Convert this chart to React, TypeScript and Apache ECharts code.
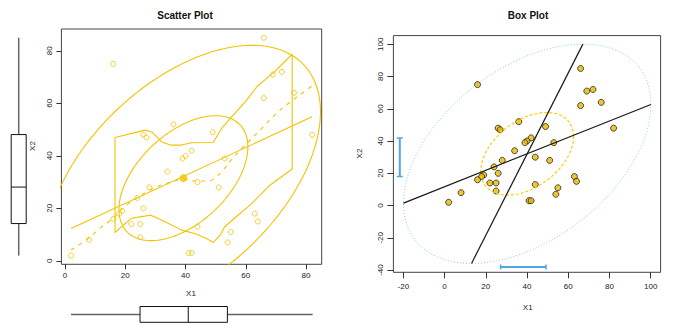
import React, { useEffect, useRef } from "react";
import * as echarts from "echarts";

// ---- data ----
const X1 = [16, 66, 69, 72, 66, 76, 82, 26, 27, 36, 49, 42, 40, 39, 53, 34, 44, 51, 28, 24, 26, 19, 18, 16, 22, 25, 25, 8, 2, 44, 41, 42, 54, 55, 63, 64];
const X2 = [75, 85, 71, 72, 62, 64, 48, 48, 47, 52, 49, 42, 40, 39, 39, 34, 30, 28, 28, 24, 20, 19, 18, 16, 14, 14, 9, 8, 2, 13, 3, 3, 7, 11, 18, 15];

const LEFT_TICKS_X = [0, 20, 40, 60, 80];
const LEFT_TICKS_Y = [0, 20, 40, 60, 80];
const RIGHT_TICKS_X = [-20, 0, 20, 40, 60, 80, 100];
const RIGHT_TICKS_Y = [-40, -20, 0, 20, 40, 60, 80, 100];

// left panel overlays
const LEFT_CENTER = [39.3, 31.5];
const LEFT_REG_X = [2, 82];
const LEFT_REG_Y = [12.3, 54.9];
const LOESS_X = [2, 7.7, 12.2, 16, 19.1, 22, 26.6, 31.3, 36.7, 39.3, 41.8, 44.8, 47.6, 50.9, 53.9, 56, 62.5, 71.4, 82];
const LOESS_Y = [4.1, 8.5, 13, 16.3, 20, 22.5, 26, 28.6, 30.5, 31.3, 30.4, 30.4, 30.4, 32.7, 36.5, 39.6, 47.2, 57.4, 66.6];
const UPPER_X = [16.6, 26.5, 28.8, 32.1, 35, 38.7, 42, 49.2, 52, 54.8, 60.3, 63.8, 69.5, 75.4];
const UPPER_Y = [47, 49.8, 49.1, 45.3, 44.1, 44.1, 45, 45.1, 50.5, 54.2, 61.2, 66.5, 72, 78.7];
const LOWER_X = [16.6, 22, 28.5, 33, 38.7, 43, 47, 49.2, 51.5, 53, 57, 61.4, 68, 75.4];
const LOWER_Y = [10.8, 16.2, 17.4, 15, 11.7, 10.4, 8.5, 7, 9.8, 13, 17, 21.2, 28.8, 35];
const LEFT_ELL_RHO = 0.5;
const LEFT_ELL_SMALL = [21.4, 23.8];
const LEFT_ELL_BIG = [45.5, 50.6];
const X_BOX = [2, 24.9, 40.9, 53.9, 82.2];
const Y_BOX = [2, 14.2, 28.1, 48.1, 85];

// right panel overlays
const RIGHT_CENTER = [40.1, 32.1];
const RIGHT_OUTER = [60, 68];
const RIGHT_OUTER_RHO = 0.45;
const RIGHT_INNER = [22.5, 25.6];
const RIGHT_INNER_RHO = 0.42;
const X_BAR = [-38.1, 27.2, 49.2];
const Y_BAR = [-21.7, 18, 41.9];

const FONT = "'Liberation Sans', Arial, Helvetica, sans-serif";
const GOLD = "#F2C300";

function ellipse(c: number[], ab: number[], r: number, n = 240) {
  const s = Math.sqrt(1 - r * r);
  const pts: number[][] = [];
  for (let i = 0; i <= n; i++) {
    const t = (2 * Math.PI * i) / n;
    pts.push([c[0] + ab[0] * Math.cos(t), c[1] + ab[1] * (r * Math.cos(t) + s * Math.sin(t))]);
  }
  return pts;
}

const zip = (xs: number[], ys: number[]) => xs.map((x, i) => [x, ys[i]]);

export default function App() {
  const ref = useRef<HTMLDivElement>(null);
  useEffect(() => {
    if (!ref.current) return;
    const chart = echarts.init(ref.current, null, { renderer: "svg" });

    const L = { left: 61.4, top: 29, width: 260.3, height: 235.3 };
    const R = { left: 393.4, top: 35.6, width: 267.2, height: 236.7 };
    const LX = { min: -1.2, max: 85.2 };
    const LY = { min: -1.32, max: 88.32 };
    const RX = { min: -24.8, max: 104.8 };
    const RY = { min: -41.4, max: 105.4 };

    const axisTxt = { fontSize: 8, color: "#222", fontFamily: FONT };
    const tick = { show: true, length: 5, lineStyle: { color: "#333", width: 1 } };
    const noLine = { show: false, onZero: false };

    const spread = [
      ...zip(UPPER_X, UPPER_Y),
      ...zip(LOWER_X, LOWER_Y).reverse(),
      [UPPER_X[0], UPPER_Y[0]],
    ];

    const lineS = (data: number[][], xi: number, color: string, width: number, type: any, extra: any = {}) => ({
      type: "line",
      xAxisIndex: xi,
      yAxisIndex: xi,
      data,
      showSymbol: false,
      symbol: "none",
      silent: true,
      smooth: false,
      lineStyle: { color, width, type },
      ...extra,
    });

    const a = RIGHT_OUTER[0], b = RIGHT_OUTER[1], rr = RIGHT_OUTER_RHO;
    const c = RIGHT_CENTER;
    const regYX = [[c[0] - a, c[1] - rr * b], [c[0] + a, c[1] + rr * b]];
    const regXY = [[c[0] - rr * a, c[1] - b], [c[0] + rr * a, c[1] + b]];

    const boxRender = (horizontal: boolean) => (params: any, api: any) => {
      const lo = api.value(0), q1 = api.value(1), med = api.value(2), q3 = api.value(3), hi = api.value(4);
      const wh = { stroke: "#666", lineWidth: 1.5 };
      const bx = { stroke: "#111", lineWidth: 1 };
      if (horizontal) {
        const p = (v: number, t: number) => api.coord([v, t]);
        const ym = p(lo, 0.5)[1], y0 = p(lo, 0)[1], y1 = p(lo, 1)[1];
        return {
          type: "group",
          children: [
            { type: "line", shape: { x1: p(lo, 0.5)[0], y1: ym, x2: p(q1, 0.5)[0], y2: ym }, style: wh },
            { type: "line", shape: { x1: p(q3, 0.5)[0], y1: ym, x2: p(hi, 0.5)[0], y2: ym }, style: wh },
            { type: "rect", shape: { x: p(q1, 0)[0], y: y1, width: p(q3, 0)[0] - p(q1, 0)[0], height: y0 - y1 }, style: { ...bx, fill: "#fff" } },
            { type: "line", shape: { x1: p(med, 0)[0], y1: y1, x2: p(med, 0)[0], y2: y0 }, style: bx },
          ],
        };
      }
      const p = (v: number, t: number) => api.coord([t, v]);
      const xm = p(lo, 0.5)[0], x0 = p(lo, 0)[0], x1 = p(lo, 1)[0];
      return {
        type: "group",
        children: [
          { type: "line", shape: { x1: xm, y1: p(lo, 0.5)[1], x2: xm, y2: p(q1, 0.5)[1] }, style: wh },
          { type: "line", shape: { x1: xm, y1: p(q3, 0.5)[1], x2: xm, y2: p(hi, 0.5)[1] }, style: wh },
          { type: "rect", shape: { x: x0, y: p(q3, 0)[1], width: x1 - x0, height: p(q1, 0)[1] - p(q3, 0)[1] }, style: { ...bx, fill: "#fff" } },
          { type: "line", shape: { x1: x0, y1: p(med, 0)[1], x2: x1, y2: p(med, 0)[1] }, style: bx },
        ],
      };
    };

    const barRender = (horizontal: boolean) => (params: any, api: any) => {
      const pos = api.value(0), v1 = api.value(1), v2 = api.value(2);
      const st = { stroke: "#4EA6E2", lineWidth: 2 };
      if (horizontal) {
        const p1 = api.coord([v1, pos]), p2 = api.coord([v2, pos]);
        return {
          type: "group",
          children: [
            { type: "line", shape: { x1: p1[0], y1: p1[1], x2: p2[0], y2: p2[1] }, style: st },
            { type: "line", shape: { x1: p1[0], y1: p1[1] - 2.5, x2: p1[0], y2: p1[1] + 2.5 }, style: { ...st, lineWidth: 1.5 } },
            { type: "line", shape: { x1: p2[0], y1: p2[1] - 2.5, x2: p2[0], y2: p2[1] + 2.5 }, style: { ...st, lineWidth: 1.5 } },
          ],
        };
      }
      const p1 = api.coord([pos, v1]), p2 = api.coord([pos, v2]);
      return {
        type: "group",
        children: [
          { type: "line", shape: { x1: p1[0], y1: p1[1], x2: p2[0], y2: p2[1] }, style: st },
          { type: "line", shape: { x1: p1[0] - 3, y1: p1[1], x2: p1[0] + 3, y2: p1[1] }, style: { ...st, lineWidth: 1.5 } },
          { type: "line", shape: { x1: p2[0] - 3, y1: p2[1], x2: p2[0] + 3, y2: p2[1] }, style: { ...st, lineWidth: 1.5 } },
        ],
      };
    };

    const option: any = {
      animation: false,
      backgroundColor: "#fff",
      textStyle: { fontFamily: FONT },
      grid: [
        { ...L, show: true, borderColor: "#444", borderWidth: 1, backgroundColor: "transparent", containLabel: false },
        { ...R, show: true, borderColor: "#444", borderWidth: 1, backgroundColor: "transparent", containLabel: false },
        { left: L.left, width: L.width, top: 306.5, height: 15.8, show: false },
        { left: 11.2, width: 15, top: L.top, height: L.height, show: false },
      ],
      xAxis: [
        {
          gridIndex: 0, type: "value", ...LX, position: "bottom",
          axisLine: noLine, splitLine: { show: false },
          axisTick: { ...tick, customValues: LEFT_TICKS_X },
          axisLabel: { ...axisTxt, margin: 7, customValues: LEFT_TICKS_X },
        },
        {
          gridIndex: 1, type: "value", ...RX, position: "bottom",
          axisLine: noLine, splitLine: { show: false },
          axisTick: { ...tick, length: 6, customValues: RIGHT_TICKS_X },
          axisLabel: { ...axisTxt, margin: 10, customValues: RIGHT_TICKS_X },
        },
        { gridIndex: 2, type: "value", ...LX, show: false, axisLine: noLine },
        { gridIndex: 3, type: "value", min: 0, max: 1, show: false, axisLine: noLine },
      ],
      yAxis: [
        {
          gridIndex: 0, type: "value", ...LY, position: "left",
          axisLine: noLine, splitLine: { show: false },
          axisTick: { ...tick, customValues: LEFT_TICKS_Y },
          axisLabel: { ...axisTxt, rotate: 90, margin: 8, customValues: LEFT_TICKS_Y },
        },
        {
          gridIndex: 1, type: "value", ...RY, position: "left",
          axisLine: noLine, splitLine: { show: false },
          axisTick: { ...tick, length: 6, customValues: RIGHT_TICKS_Y },
          axisLabel: { ...axisTxt, rotate: 90, margin: 9, customValues: RIGHT_TICKS_Y },
        },
        { gridIndex: 2, type: "value", min: 0, max: 1, show: false, axisLine: noLine },
        { gridIndex: 3, type: "value", ...LY, show: false, axisLine: noLine },
      ],
      series: [
        // ---- left scatter plot ----
        lineS(ellipse(LEFT_CENTER, LEFT_ELL_BIG, LEFT_ELL_RHO), 0, GOLD, 1.1, "solid"),
        lineS(ellipse(LEFT_CENTER, LEFT_ELL_SMALL, LEFT_ELL_RHO), 0, GOLD, 1.1, "solid"),
        lineS(spread, 0, GOLD, 1.1, "solid"),
        lineS(zip(LEFT_REG_X, LEFT_REG_Y), 0, GOLD, 1.1, "solid"),
        lineS(zip(LOESS_X, LOESS_Y), 0, GOLD, 1.1, [4, 5], { smooth: 0.3 }),
        {
          type: "scatter", xAxisIndex: 0, yAxisIndex: 0, silent: true,
          data: zip(X1, X2), symbol: "circle", symbolSize: 5,
          itemStyle: { color: "rgba(0,0,0,0)", borderColor: GOLD, borderWidth: 1 },
        },
        {
          type: "scatter", xAxisIndex: 0, yAxisIndex: 0, silent: true,
          data: [LEFT_CENTER], symbol: "circle", symbolSize: 8,
          itemStyle: { color: GOLD },
        },
        // marginal boxplots
        {
          type: "custom", xAxisIndex: 2, yAxisIndex: 2, clip: false, silent: true,
          data: [X_BOX], encode: { x: [0, 1, 2, 3, 4] },
          renderItem: boxRender(true),
        },
        {
          type: "custom", xAxisIndex: 3, yAxisIndex: 3, clip: false, silent: true,
          data: [Y_BOX], encode: { y: [0, 1, 2, 3, 4] },
          renderItem: boxRender(false),
        },
        // ---- right box plot panel ----
        lineS(ellipse(RIGHT_CENTER, RIGHT_OUTER, RIGHT_OUTER_RHO), 1, "#86C8EE", 1, [1, 2]),
        lineS(ellipse(RIGHT_CENTER, RIGHT_INNER, RIGHT_INNER_RHO), 1, "#F7D000", 1.2, [3, 2]),
        lineS(regYX, 1, "#1a1a1a", 1.2, "solid"),
        lineS(regXY, 1, "#1a1a1a", 1.2, "solid"),
        {
          type: "custom", xAxisIndex: 1, yAxisIndex: 1, clip: false, silent: true,
          data: [Y_BAR], renderItem: barRender(false),
        },
        {
          type: "custom", xAxisIndex: 1, yAxisIndex: 1, clip: false, silent: true,
          data: [X_BAR], renderItem: barRender(true),
        },
        {
          type: "scatter", xAxisIndex: 1, yAxisIndex: 1, silent: true,
          data: zip(X1, X2), symbol: "circle", symbolSize: 6,
          itemStyle: { color: "#E8B800", borderColor: "#111", borderWidth: 0.9 },
        },
      ],
      graphic: [
        { type: "text", x: 185, y: 15.5, style: { text: "Scatter Plot", font: `bold 10px ${FONT}`, fill: "#111", align: "center", verticalAlign: "middle" } },
        { type: "text", x: 528, y: 15.5, style: { text: "Box Plot", font: `bold 10px ${FONT}`, fill: "#111", align: "center", verticalAlign: "middle" } },
        { type: "text", x: 191, y: 293, style: { text: "X1", font: `8px ${FONT}`, fill: "#222", align: "center", verticalAlign: "middle" } },
        { type: "text", x: 32, y: 146, rotation: Math.PI / 2, style: { text: "X2", font: `8px ${FONT}`, fill: "#222", align: "center", verticalAlign: "middle" } },
        { type: "text", x: 527.7, y: 307.3, style: { text: "X1", font: `8px ${FONT}`, fill: "#222", align: "center", verticalAlign: "middle" } },
        { type: "text", x: 359, y: 153.5, rotation: Math.PI / 2, style: { text: "X2", font: `8px ${FONT}`, fill: "#222", align: "center", verticalAlign: "middle" } },
      ],
    };
    chart.setOption(option);
    return () => chart.dispose();
  }, []);
  return <div ref={ref} style={{ position: "fixed", left: 0, top: 0, width: 682, height: 328, background: "#fff" }} />;
}
